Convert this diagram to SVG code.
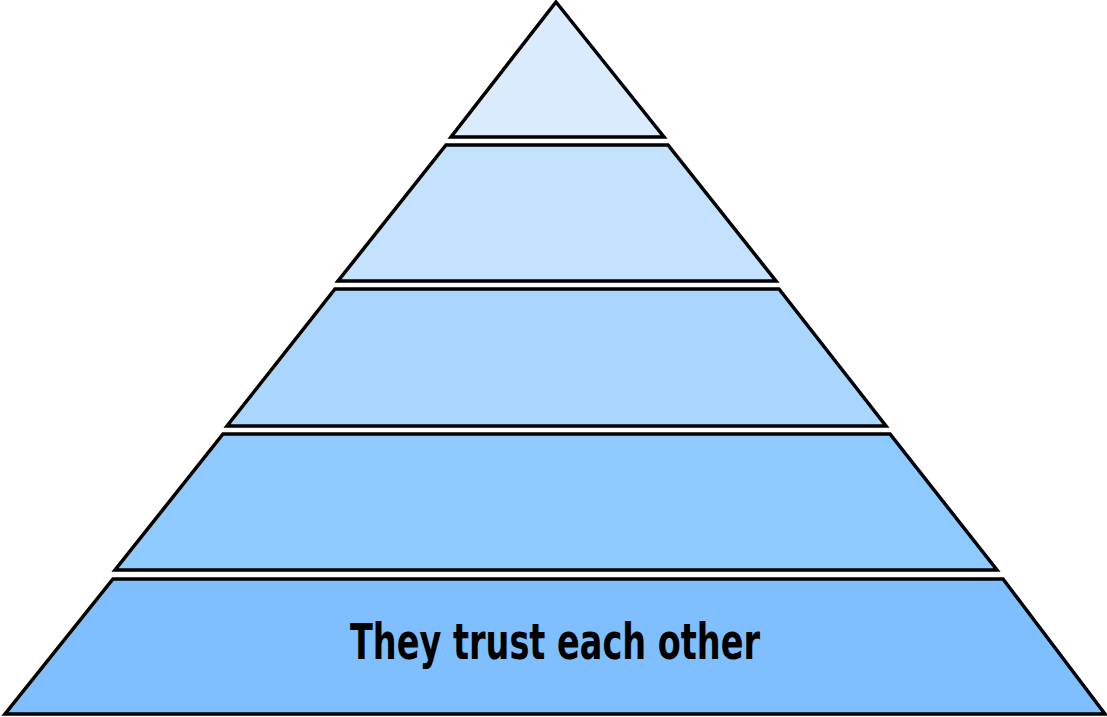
<svg xmlns="http://www.w3.org/2000/svg" width="1107" height="717" viewBox="0 0 1107 717">
<style>
.layer{stroke:#000;stroke-width:3.5;stroke-linejoin:miter}
.lbl{font-family:"DejaVu Sans Condensed","DejaVu Sans",sans-serif;font-size:50px;font-weight:bold;fill:#000}
</style>
<rect width="1107" height="717" fill="#fff"/>
<g id="layer1"><polygon class="layer" fill="#DAEBFD" points="556,2 664,137 451,137"/></g>
<g id="layer2"><polygon class="layer" fill="#C4E2FD" points="446,145 668,145 776,281 338,281"/></g>
<g id="layer3"><polygon class="layer" fill="#AAD6FE" points="335,289 779,289 886,426 227,426"/></g>
<g id="layer4"><polygon class="layer" fill="#8FCAFE" points="223,434 890,434 997,570 115,570"/></g>
<g id="layer5"><polygon class="layer" fill="#7FBFFE" points="113,579 1003,579 1105,714 5,714"/>
<text class="lbl" x="555" y="659" text-anchor="middle" textLength="410" lengthAdjust="spacingAndGlyphs">They trust each other</text></g>
<g id="connectors"/>
</svg>
